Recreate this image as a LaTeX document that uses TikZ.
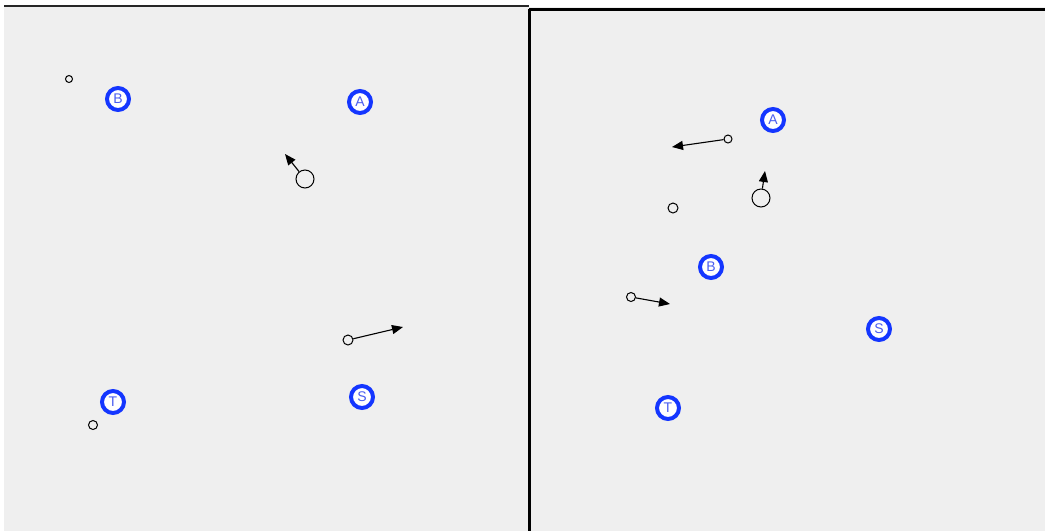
\documentclass[tikz,border=0pt]{standalone}
\usetikzlibrary{arrows.meta}
\usepackage{fontspec}
\setmainfont{Liberation Sans}
\definecolor{bg}{HTML}{EFEFEF}
\definecolor{ringblue}{HTML}{1436FF}
\definecolor{letterblue}{HTML}{4A5EF0}
\tikzset{
  x=1pt, y=-1pt,
  station/.style={circle, draw=ringblue, line width=4pt, fill=white, minimum size=22pt, inner sep=0pt, text=letterblue, font=\fontsize{14}{14}\selectfont},
  dot/.style={circle, draw=black, line width=1pt, fill=none, inner sep=0pt, minimum size=#1},
  mover/.style={-{Triangle[length=11pt,width=9pt]}, line width=1.1pt, black},
}
\begin{document}
\begin{tikzpicture}
\useasboundingbox (0,0) rectangle (1045,531);
\fill[white] (0,0) rectangle (1045,531);
\fill[bg] (4,7) rectangle (1045,531);
% frame lines
\draw[line width=2pt, black!85] (4,6) -- (529,6);
\draw[line width=3pt, black] (529,9) -- (1045,9);
\draw[line width=3pt, black] (529,9) -- (529,531);

% left panel
\node[dot=7pt] (l1) at (69,79) {};
\node[station] (lB) at (118,99) {B};
\node[station] (lA) at (360,102) {A};
\node[dot=18pt] (l2) at (305,179) {};
\coordinate (l2t) at (285,154);
\draw[mover] (l2) -- (l2t);
\node[dot=10pt] (l3) at (348,340) {};
\coordinate (l3t) at (403,327);
\draw[mover] (l3) -- (l3t);
\node[station] (lT) at (113,402) {T};
\node[dot=9pt] (l4) at (93,425) {};
\node[station] (lS) at (362,397) {S};

% right panel
\node[station] (rA) at (773,120) {A};
\node[dot=8pt] (r1) at (728,139) {};
\coordinate (r1t) at (672,147);
\draw[mover] (r1) -- (r1t);
\node[dot=18pt] (r2) at (761,198) {};
\coordinate (r2t) at (765,171);
\draw[mover] (r2) -- (r2t);
\node[dot=10pt] (r3) at (673,208) {};
\node[station] (rB) at (711,267) {B};
\node[dot=9pt] (r4) at (631,297) {};
\coordinate (r4t) at (670,304);
\draw[mover] (r4) -- (r4t);
\node[station] (rS) at (879,329) {S};
\node[station] (rT) at (668,408) {T};
\end{tikzpicture}
\end{document}
